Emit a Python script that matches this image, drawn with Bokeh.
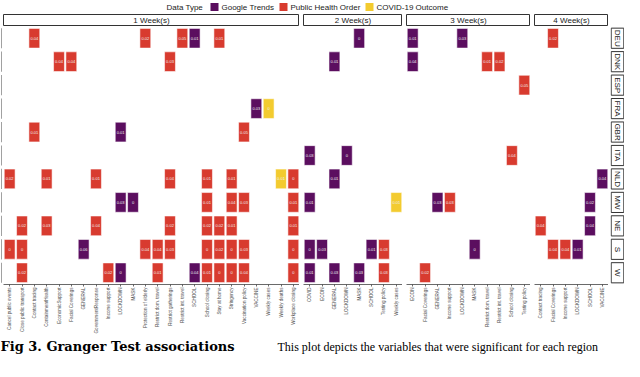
from math import pi
from bokeh.plotting import figure
from bokeh.layouts import column, row
from bokeh.models import ColumnDataSource, FactorRange, Range1d, Spacer
from bokeh.transform import factor_cmap
from bokeh.core.properties import value
from bokeh.embed import file_html
from bokeh.resources import INLINE

# ---------------- data ----------------
lags = ["1 Week(s)", "2 Week(s)", "3 Week(s)", "4 Week(s)"]
vars_1w = ["Cancel public events", "Close public transport", "Contact tracing",
           "ContainmentHealth", "EconomicSupport", "Facial Coverings", "GENERAL",
           "GovernmentResponse", "Income support", "LOCKDOWN", "MASK",
           "Protection of elderly", "Restrict dom. travel", "Restrict gatherings",
           "Restrict int. travel", "SCHOOL", "School closing", "Stay at home",
           "Stringency", "Vaccination policy", "VACCINE", "Weekly cases",
           "Weekly deaths", "Workplace closing"]
vars_2w = ["COVID", "ECON", "GENERAL", "LOCKDOWN", "MASK", "SCHOOL",
           "Testing policy", "Weekly cases"]
vars_3w = ["ECON", "Facial Coverings", "GENERAL", "Income support", "LOCKDOWN",
           "MASK", "Restrict dom. travel", "Restrict int. travel",
           "School closing", "Testing policy"]
vars_4w = ["Contact tracing", "Facial Coverings", "Income support", "LOCKDOWN",
           "SCHOOL", "VACCINE"]
lag_variables = [vars_1w, vars_2w, vars_3w, vars_4w]

regions = ["DEU", "DNK", "ESP", "FRA", "GBR", "ITA", "NLD", "MW", "NE", "S", "W"]

GT, PH, CO = "Google Trends", "Public Health Order", "COVID-19 Outcome"
data_types = [GT, PH, CO]
type_colors = ["#5B0E5F", "#D83B2F", "#F3CB2F"]
legend_title = "Data Type"

# per region: lag (weeks), variable, data type, p-value
deu_lag = [1, 1, 1, 1, 1, 2, 3, 3, 4]
deu_var = ["Contact tracing", "Protection of elderly", "Restrict int. travel", "SCHOOL",
           "Stay at home", "MASK", "ECON", "LOCKDOWN", "Facial Coverings"]
deu_type = [PH, PH, PH, GT, PH, GT, GT, GT, PH]
deu_p = [0.04, 0.02, 0.05, 0.01, 0.01, 0, 0.01, 0.03, 0.02]

dnk_lag = [1, 1, 1, 2, 3, 3, 3]
dnk_var = ["EconomicSupport", "Facial Coverings", "Restrict gatherings", "GENERAL",
           "ECON", "Restrict dom. travel", "Restrict int. travel"]
dnk_type = [PH, PH, PH, GT, GT, PH, PH]
dnk_p = [0.04, 0.04, 0.03, 0.01, 0.04, 0.01, 0.02]

esp_lag = [3]
esp_var = ["Testing policy"]
esp_type = [PH]
esp_p = [0.05]

fra_lag = [1, 1]
fra_var = ["VACCINE", "Weekly cases"]
fra_type = [GT, CO]
fra_p = [0.03, 0]

gbr_lag = [1, 1, 1]
gbr_var = ["Contact tracing", "LOCKDOWN", "Vaccination policy"]
gbr_type = [PH, GT, PH]
gbr_p = [0.01, 0.01, 0.05]

ita_lag = [2, 2, 3]
ita_var = ["COVID", "LOCKDOWN", "School closing"]
ita_type = [GT, GT, PH]
ita_p = [0.03, 0, 0.04]

nld_lag = [1, 1, 1, 1, 1, 1, 1, 1, 2, 4]
nld_var = ["Cancel public events", "ContainmentHealth", "GovernmentResponse",
           "Restrict gatherings", "School closing", "Stringency", "Weekly deaths",
           "Workplace closing", "GENERAL", "VACCINE"]
nld_type = [PH, PH, PH, PH, PH, PH, CO, PH, GT, GT]
nld_p = [0.02, 0.01, 0.01, 0.04, 0.01, 0.01, 0.01, 0, 0.01, 0.04]

mw_lag = [1, 1, 1, 1, 1, 1, 2, 2, 3, 3, 4]
mw_var = ["LOCKDOWN", "MASK", "School closing", "Stringency", "Vaccination policy",
          "Workplace closing", "COVID", "Weekly cases", "GENERAL", "Income support",
          "SCHOOL"]
mw_type = [GT, GT, PH, PH, PH, PH, GT, CO, GT, PH, GT]
mw_p = [0.03, 0, 0.01, 0.04, 0.03, 0.01, 0.01, 0.01, 0.03, 0.03, 0.02]

ne_lag = [1, 1, 1, 1, 1, 1, 1, 1, 4, 4]
ne_var = ["Close public transport", "ContainmentHealth", "GovernmentResponse",
          "Restrict gatherings", "School closing", "Stay at home", "Stringency",
          "Workplace closing", "Contact tracing", "SCHOOL"]
ne_type = [PH, PH, PH, PH, PH, PH, PH, PH, PH, GT]
ne_p = [0.02, 0.03, 0.04, 0.02, 0.02, 0.02, 0.01, 0.01, 0.04, 0.04]

s_lag = [1, 1, 1, 1, 1, 1, 1, 1, 1, 1, 1, 2, 2, 2, 2, 3, 4, 4, 4]
s_var = ["Cancel public events", "Close public transport", "GENERAL",
         "Protection of elderly", "Restrict dom. travel", "Restrict gatherings",
         "School closing", "Stay at home", "Stringency", "Vaccination policy",
         "Workplace closing", "COVID", "ECON", "SCHOOL", "Testing policy", "MASK",
         "Facial Coverings", "Income support", "LOCKDOWN"]
s_type = [PH, PH, GT, PH, PH, PH, PH, PH, PH, PH, PH, GT, GT, GT, PH, GT, PH, PH, GT]
s_p = [0, 0, 0.06, 0.04, 0.04, 0.03, 0, 0.02, 0, 0.03, 0, 0, 0.03, 0.01, 0.03, 0,
       0.04, 0.04, 0.01]

w_lag = [1, 1, 1, 1, 1, 1, 1, 1, 1, 1, 2, 2, 2, 2, 3]
w_var = ["Close public transport", "Income support", "LOCKDOWN", "Restrict dom. travel",
         "SCHOOL", "School closing", "Stay at home", "Stringency", "Vaccination policy",
         "Workplace closing", "COVID", "GENERAL", "MASK", "Testing policy",
         "Facial Coverings"]
w_type = [PH, PH, GT, PH, GT, PH, PH, PH, PH, PH, GT, GT, GT, PH, PH]
w_p = [0.02, 0.02, 0, 0.01, 0.04, 0.01, 0, 0, 0.04, 0, 0.01, 0.03, 0.03, 0.03, 0.02]

caption_bold = "Fig 3.  Granger Test associations"
caption_rest = "This plot depicts the variables that were significant for each region"

# ---------------- assemble table ----------------
per_region = {
    "DEU": (deu_lag, deu_var, deu_type, deu_p), "DNK": (dnk_lag, dnk_var, dnk_type, dnk_p),
    "ESP": (esp_lag, esp_var, esp_type, esp_p), "FRA": (fra_lag, fra_var, fra_type, fra_p),
    "GBR": (gbr_lag, gbr_var, gbr_type, gbr_p), "ITA": (ita_lag, ita_var, ita_type, ita_p),
    "NLD": (nld_lag, nld_var, nld_type, nld_p), "MW": (mw_lag, mw_var, mw_type, mw_p),
    "NE": (ne_lag, ne_var, ne_type, ne_p), "S": (s_lag, s_var, s_type, s_p),
    "W": (w_lag, w_var, w_type, w_p),
}

# ---------------- layout constants ----------------
FONT = "Liberation Sans"
CAT_W = 12.35
ROW_H = 23.5
PANEL_H = round(ROW_H * len(regions))
GAP = 4
BOTTOM = 52
AX_COL = "#444444"
LEGEND_KEY_X = [214, 283, 369]
LEGEND_TITLE_X = 166

yr = FactorRange(factors=list(reversed(regions)))


def bare(fig):
    fig.xgrid.visible = False
    fig.ygrid.visible = False
    return fig


panels, strips = [], []
total_w = 2
for i, (lag, cats) in enumerate(zip(lags, lag_variables)):
    src = dict(region=[], variable=[], type=[], label=[])
    for reg in regions:
        lg_, vv, tt, pp = per_region[reg]
        for l, v, t, pv in zip(lg_, vv, tt, pp):
            if l == i + 1:
                src["region"].append(reg)
                src["variable"].append(v)
                src["type"].append(t)
                src["label"].append(f"{pv:g}")
    source = ColumnDataSource(src)
    fw = round(CAT_W * len(cats))
    lb = 1 if i == 0 else GAP
    total_w += fw + lb

    p = bare(figure(x_range=FactorRange(factors=cats), y_range=yr,
                    frame_width=fw, frame_height=PANEL_H,
                    min_border_left=lb, min_border_right=0, min_border_top=0,
                    min_border_bottom=BOTTOM, toolbar_location=None,
                    output_backend="svg", y_axis_location=None,
                    outline_line_color=None, background_fill_color="white"))
    p.rect(x="variable", y="region", width=0.88, height=0.84, source=source,
           fill_color=factor_cmap("type", type_colors, data_types),
           line_color="white", line_alpha=0.55, line_width=1)
    p.text(x="variable", y="region", text="label", source=source,
           text_align="center", text_baseline="middle", text_font_size="4px",
           text_color="#EEEEEE", text_font=value(FONT))
    ax = p.xaxis[0]
    ax.major_label_orientation = pi / 2
    ax.major_label_text_font_size = "4.6px"
    ax.major_label_text_color = "#4D4D4D"
    ax.major_label_text_font = FONT
    ax.axis_line_color = AX_COL
    ax.axis_line_width = 0.8
    ax.major_tick_line_color = AX_COL
    ax.major_tick_line_width = 0.8
    ax.major_tick_in = 0
    ax.major_tick_out = 2
    ax.major_label_standoff = 1
    panels.append(p)

    s = bare(figure(x_range=Range1d(0, 1), y_range=Range1d(0, 1),
                    frame_width=fw, frame_height=11,
                    min_border_left=lb, min_border_right=0, min_border_top=1,
                    min_border_bottom=1, toolbar_location=None, output_backend="svg",
                    x_axis_location=None, y_axis_location=None,
                    outline_line_color="#333333", outline_line_width=1,
                    background_fill_color="white"))
    s.text(x=[0.5], y=[0.45], text=[lag], text_align="center",
           text_baseline="middle", text_font_size="8px", text_color="#1A1A1A",
           text_font=value(FONT))
    strips.append(s)

# left axis line segments, one per region row
reg_src = ColumnDataSource(dict(region=regions))
left = bare(figure(x_range=Range1d(0, 2), y_range=yr, frame_width=2, frame_height=PANEL_H,
                   min_border_left=0, min_border_right=0, min_border_top=0,
                   min_border_bottom=BOTTOM, toolbar_location=None, output_backend="svg",
                   x_axis_location=None, y_axis_location=None, outline_line_color=None))
left.hbar(y="region", left=1, right=2, height=0.86, source=reg_src,
          fill_color=AX_COL, line_color=None)

# right region strips
right = bare(figure(x_range=Range1d(0, 1), y_range=yr, frame_width=14, frame_height=PANEL_H,
                    min_border_left=2, min_border_right=0, min_border_top=0,
                    min_border_bottom=BOTTOM, toolbar_location=None, output_backend="svg",
                    x_axis_location=None, y_axis_location=None, outline_line_color=None))
right.rect(x=0.5, y="region", width=0.9, height=0.86, source=reg_src,
           fill_color="white", line_color="#333333", line_width=1)
right.text(x=0.5, y="region", text="region", source=reg_src, angle=-pi / 2,
           text_align="center", text_baseline="middle", text_font_size="8px",
           text_color="#1A1A1A", text_font=value(FONT))
total_w += 16

# legend (pixel-unit figure)
lg = bare(figure(x_range=Range1d(0, total_w), y_range=Range1d(0, 13),
                 frame_width=total_w, frame_height=13, min_border=0,
                 toolbar_location=None, output_backend="svg",
                 x_axis_location=None, y_axis_location=None, outline_line_color=None))
leg_src = ColumnDataSource(dict(x=LEGEND_KEY_X, tx=[x + 7 for x in LEGEND_KEY_X],
                                type=data_types))
lg.rect(x="x", y=6.5, width=8, height=8, source=leg_src,
        fill_color=factor_cmap("type", type_colors, data_types), line_color=None)
lg.text(x="tx", y=6.5, text="type", source=leg_src, text_baseline="middle",
        text_font_size="8px", text_color="#1A1A1A", text_font=value(FONT))
lg.text(x=[LEGEND_TITLE_X], y=[6.5], text=[legend_title], text_baseline="middle",
        text_font_size="8px", text_color="#1A1A1A", text_font=value(FONT))

# caption
cf = bare(figure(x_range=Range1d(0, total_w), y_range=Range1d(0, 20), frame_width=total_w,
                 frame_height=20, min_border=0, toolbar_location=None,
                 output_backend="svg", x_axis_location=None, y_axis_location=None,
                 outline_line_color=None))
cf.text(x=[0], y=[10], text=[caption_bold], text_font=value("DejaVu Serif"),
        text_font_style="bold", text_font_size="13px", text_color="#000000",
        text_baseline="middle")
cf.text(x=[277], y=[10], text=[caption_rest], text_font=value("Liberation Serif"),
        text_font_size="12px", text_color="#000000", text_baseline="middle")

layout = column(
    lg,
    row(Spacer(width=2, height=13), *strips),
    row(left, *panels, right),
    cf,
)

open("out.html", "w").write(file_html(layout, INLINE))
